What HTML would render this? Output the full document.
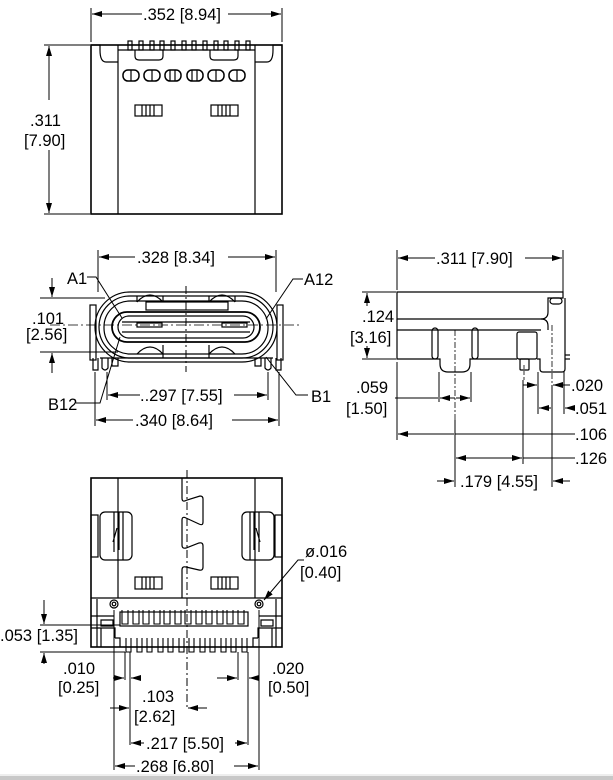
<!DOCTYPE html>
<html><head><meta charset="utf-8"><style>
html,body{margin:0;padding:0;background:#fff}
svg{display:block}
text{font-family:"Liberation Sans",sans-serif;font-size:16.5px;fill:#000}
</style></head><body>
<svg width="613" height="780" viewBox="0 0 613 780" xmlns="http://www.w3.org/2000/svg">
<defs>
<marker id="a" viewBox="0 0 10 6" refX="10" refY="3" markerWidth="10" markerHeight="6" orient="auto-start-reverse" markerUnits="userSpaceOnUse"><path d="M0,0L10,3L0,6z" fill="#000"/></marker>
</defs>
<g fill="none" stroke="#000" stroke-width="1.2">
<!-- TOP VIEW -->
<rect x="91" y="45" width="191" height="169" stroke-width="1.6"/>
<line x1="118" y1="45" x2="118" y2="214"/><line x1="255" y1="45" x2="255" y2="214"/>
<path d="M91,45 h9 v5 q0,12 6,12 h12 M282,45 h-9 v5 q0,12 -6,12 h-12"/>
<line x1="118" y1="50" x2="255" y2="50"/>
<g>
<rect x="128" y="41" width="4" height="9"/><rect x="139" y="41" width="4" height="9"/><rect x="150" y="41" width="4" height="9"/><rect x="160" y="41" width="4" height="9"/><rect x="171" y="41" width="4" height="9"/><rect x="182" y="41" width="4" height="9"/><rect x="192" y="41" width="4" height="9"/><rect x="203" y="41" width="4" height="9"/><rect x="214" y="41" width="4" height="9"/><rect x="224" y="41" width="4" height="9"/><rect x="235" y="41" width="4" height="9"/><rect x="246" y="41" width="4" height="9"/>
</g>
<path d="M135,50 v6 q0,4 4,4 h20 q4,0 4,-4 v-6 M210,50 v6 q0,4 4,4 h20 q4,0 4,-4 v-6"/>
<g stroke-width="1.5">
<rect x="123" y="70" width="16" height="11" rx="5"/><rect x="144" y="70" width="16" height="11" rx="5"/><rect x="165" y="70" width="16" height="11" rx="5"/><rect x="187" y="70" width="16" height="11" rx="5"/><rect x="208" y="70" width="16" height="11" rx="5"/><rect x="229" y="70" width="16" height="11" rx="5"/>
</g>
<path d="M131,70v11M152,70v11M170,70v11M175,70v11M192,70v11M197,70v11M216,70v11M237,70v11"/>
<rect x="135" y="105" width="27" height="11"/><path d="M142,105v11M146,105v11M150,105v11M154,105v11"/>
<rect x="211" y="105" width="27" height="11"/><path d="M218,105v11M222,105v11M226,105v11M230,105v11"/>
<line x1="91" y1="8" x2="91" y2="42" stroke-width="1"/><line x1="282" y1="8" x2="282" y2="42" stroke-width="1"/>
<line x1="92" y1="14" x2="142" y2="14" marker-start="url(#a)" stroke-width="1"/><line x1="228" y1="14" x2="281" y2="14" marker-end="url(#a)" stroke-width="1"/>
<line x1="44" y1="45" x2="90" y2="45" stroke-width="1"/><line x1="44" y1="214" x2="90" y2="214" stroke-width="1"/>
<line x1="49" y1="46" x2="49" y2="100" marker-start="url(#a)" stroke-width="1"/><line x1="49" y1="150" x2="49" y2="213" marker-end="url(#a)" stroke-width="1"/>

<!-- FRONT VIEW -->
<rect x="95" y="292" width="182" height="70" rx="35"/>
<rect x="99" y="296" width="174" height="62" rx="31"/>
<rect x="104" y="301" width="164" height="53" rx="26"/>
<rect x="112" y="312" width="148" height="30" rx="15" stroke-width="1.8"/>
<rect x="118" y="316" width="136" height="22" rx="11"/>
<line x1="122" y1="322" x2="250" y2="322"/><line x1="122" y1="332" x2="250" y2="332"/>
<rect x="137" y="323" width="25" height="4"/><rect x="222" y="323" width="25" height="4"/>
<path d="M137,302 v-6 M163,302 v-6 M137,302 q13,-14 26,0 M209,302 q13,-14 26,0 M209,302v-6 M235,302v-6"/>
<path d="M137,354 q13,-14 26,0 M209,354 q13,-14 26,0 M163,345v13M209,345v13"/>
<rect x="146" y="302" width="82" height="8"/>
<rect x="90" y="305" width="6" height="55"/><rect x="277" y="305" width="6" height="55"/>
<path d="M93,358v12h5v-12 M276,358v12h5v-12 M102,358v10q3,4 6,0v-10 M265,358v10q3,4 6,0v-10 M112,358v8h6v-8 M255,358v8h6v-8"/>
<line x1="100" y1="358" x2="273" y2="358"/>
<line x1="186" y1="286" x2="186" y2="372" stroke-dasharray="8,3,2,3" stroke-width="1"/>
<line x1="50" y1="325" x2="300" y2="325" stroke-dasharray="10,3,2,3" stroke-width="0.8"/>
<line x1="98" y1="250" x2="98" y2="292" stroke-width="1"/><line x1="276" y1="250" x2="276" y2="292" stroke-width="1"/>
<line x1="99" y1="257" x2="135" y2="257" marker-start="url(#a)" stroke-width="1"/><line x1="228" y1="257" x2="275" y2="257" marker-end="url(#a)" stroke-width="1"/>
<line x1="40" y1="298" x2="105" y2="298" stroke-width="1"/><line x1="40" y1="352" x2="118" y2="352" stroke-width="1"/>
<line x1="52" y1="278" x2="52" y2="297" marker-end="url(#a)" stroke-width="1"/><line x1="52" y1="373" x2="52" y2="353" marker-end="url(#a)" stroke-width="1"/>
<line x1="107" y1="372" x2="107" y2="400" stroke-width="1"/><line x1="268" y1="372" x2="268" y2="400" stroke-width="1"/>
<line x1="108" y1="395" x2="140" y2="395" marker-start="url(#a)" stroke-width="1"/><line x1="234" y1="395" x2="267" y2="395" marker-end="url(#a)" stroke-width="1"/>
<line x1="95" y1="372" x2="95" y2="426" stroke-width="1"/><line x1="279" y1="372" x2="279" y2="426" stroke-width="1"/>
<line x1="96" y1="420" x2="133" y2="420" marker-start="url(#a)" stroke-width="1"/><line x1="232" y1="420" x2="278" y2="420" marker-end="url(#a)" stroke-width="1"/>
<path d="M87,277h9l26,41 M303,279h-10l-27,40 M76,403h24l20,-66 M308,395h-12l-30,-38" stroke-width="1"/>

<!-- SIDE VIEW -->
<path d="M397,292 H563 V298 H548 V312 Q548,319 541,319 H397 Z"/>
<path d="M397,319 V359 H440 V364 Q440,372 448,372 H462 Q470,372 470,364 V359 H517 M537,359 H540 V369 Q540,372 543,372 H562 Q565,372 565,369 V298"/>
<line x1="397" y1="330" x2="541" y2="330"/><path d="M541,319 Q548,319 548,326 V330"/>
<line x1="565" y1="355" x2="570" y2="355"/><line x1="565" y1="359" x2="570" y2="359"/>
<rect x="432" y="328" width="6" height="31" rx="3"/><rect x="472" y="328" width="6" height="31" rx="3"/>
<rect x="517" y="332" width="20" height="27" rx="2"/><rect x="520" y="359" width="9" height="11" rx="1"/>
<rect x="550" y="298" width="12" height="6" rx="3"/>
<line x1="455" y1="330" x2="455" y2="420" stroke-dasharray="6,2,2,2" stroke-width="0.8"/>
<line x1="524" y1="365" x2="524" y2="380" stroke-dasharray="4,2" stroke-width="0.8"/>
<line x1="552" y1="325" x2="552" y2="385" stroke-dasharray="6,2,2,2" stroke-width="0.8"/>
<line x1="397" y1="250" x2="397" y2="290" stroke-width="1"/><line x1="563" y1="250" x2="563" y2="292" stroke-width="1"/>
<line x1="398" y1="258" x2="435" y2="258" marker-start="url(#a)" stroke-width="1"/><line x1="525" y1="258" x2="562" y2="258" marker-end="url(#a)" stroke-width="1"/>
<line x1="362" y1="292" x2="396" y2="292" stroke-width="1"/><line x1="362" y1="359" x2="396" y2="359" stroke-width="1"/>
<line x1="367" y1="293" x2="367" y2="306" marker-start="url(#a)" stroke-width="1"/><line x1="367" y1="346" x2="367" y2="358" marker-end="url(#a)" stroke-width="1"/>
<line x1="397" y1="362" x2="397" y2="440" stroke-width="1"/>
<line x1="439" y1="372" x2="439" y2="402" stroke-width="1"/><line x1="471" y1="372" x2="471" y2="402" stroke-width="1"/>
<line x1="395" y1="398" x2="438" y2="398" stroke-width="1"/><line x1="440" y1="398" x2="455" y2="398" marker-start="url(#a)" stroke-width="1"/><line x1="456" y1="398" x2="470" y2="398" marker-end="url(#a)" stroke-width="1"/>
<line x1="455" y1="420" x2="455" y2="487" stroke-width="1"/>
<line x1="523" y1="380" x2="523" y2="464" stroke-width="1"/>
<line x1="538" y1="372" x2="538" y2="414" stroke-width="1"/><line x1="552" y1="385" x2="552" y2="487" stroke-width="1"/>
<line x1="564" y1="372" x2="564" y2="414" stroke-width="1"/>
<line x1="523" y1="385" x2="537" y2="385" marker-end="url(#a)" stroke-width="1"/><line x1="570" y1="385" x2="553" y2="385" marker-end="url(#a)" stroke-width="1"/>
<line x1="539" y1="408" x2="551" y2="408" marker-start="url(#a)" stroke-width="1"/><line x1="575" y1="408" x2="565" y2="408" marker-end="url(#a)" stroke-width="1"/>
<line x1="398" y1="434" x2="454" y2="434" marker-start="url(#a)" stroke-width="1"/><line x1="455" y1="434" x2="575" y2="434" stroke-width="1"/>
<line x1="456" y1="458" x2="522" y2="458" marker-start="url(#a)" marker-end="url(#a)" stroke-width="1"/><line x1="523" y1="458" x2="575" y2="458" stroke-width="1"/>
<line x1="437" y1="481" x2="454" y2="481" marker-end="url(#a)" stroke-width="1"/><line x1="570" y1="481" x2="553" y2="481" marker-end="url(#a)" stroke-width="1"/>

<!-- BOTTOM VIEW -->
<rect x="91" y="478" width="191" height="169" stroke-width="1.6"/>
<line x1="118" y1="478" x2="118" y2="598"/><line x1="255" y1="478" x2="255" y2="598"/>
<line x1="91" y1="598" x2="282" y2="598"/>
<path d="M182,478 V498 Q182,503 187,500 L200,496 Q203,496 203,499 V522 Q203,526 199,524 L186,518 Q182,516 182,520 V545 Q182,549 186,548 L199,543 Q203,542 203,546 V567 Q203,571 199,570 L186,567 Q182,566 182,570 V598"/>
<line x1="187" y1="470" x2="187" y2="710" stroke-dasharray="8,3,2,3" stroke-width="1"/>
<rect x="100" y="512" width="32" height="48" rx="5"/><rect x="91" y="515" width="7" height="42"/>
<path d="M114,512 V552 M119,512 V550 M117,528 l-4,14 M123,512 V560"/>
<rect x="242" y="512" width="32" height="48" rx="5"/><rect x="275" y="515" width="7" height="42"/>
<path d="M259,512 V552 M254,512 V550 M256,528 l4,14 M250,512 V560"/>
<rect x="135" y="577" width="27" height="12"/><path d="M142,577v12M146,577v12M150,577v12M154,577v12"/>
<rect x="211" y="577" width="27" height="12"/><path d="M218,577v12M222,577v12M226,577v12M230,577v12"/>
<circle cx="114" cy="604" r="4"/><circle cx="114" cy="604" r="1.8"/>
<circle cx="259" cy="604" r="4"/><circle cx="259" cy="604" r="1.8"/>
<rect x="120" y="612" width="128" height="14"/>
<path d="M97,599V647 M276,599V647 M91,616H114 M259,616H282 M101,620H113V626H101Z M261,620H273V626H261Z M91,628H115V638 M282,628H258V638 M101,628V647 M272,628V647"/>
<path d="M115,638 H120 V647 M258,638 H253 V647"/>
<g stroke-width="1.1">
<path d="M122,610v14h6v-14 M133,610v14h6v-14 M143,610v14h6v-14 M154,610v14h6v-14 M164,610v14h6v-14 M175,610v14h6v-14 M185,610v14h6v-14 M196,610v14h6v-14 M206,610v14h6v-14 M217,610v14h6v-14 M227,610v14h6v-14 M238,610v14h6v-14"/>
<path d="M126,638v14h5v-14 M137,638v14h5v-14 M147,638v14h5v-14 M158,638v14h5v-14 M168,638v14h5v-14 M179,638v14h5v-14 M189,638v14h5v-14 M200,638v14h5v-14 M210,638v14h5v-14 M221,638v14h5v-14 M231,638v14h5v-14 M242,638v14h5v-14"/>
</g>
<line x1="40" y1="625" x2="120" y2="625" stroke-width="1"/><line x1="40" y1="652" x2="125" y2="652" stroke-width="1"/>
<line x1="44" y1="600" x2="44" y2="624" marker-end="url(#a)" stroke-width="1"/><line x1="44" y1="664" x2="44" y2="653" marker-end="url(#a)" stroke-width="1"/>
<line x1="114" y1="610" x2="114" y2="770" stroke-width="1"/><line x1="259" y1="610" x2="259" y2="770" stroke-width="1"/>
<line x1="125" y1="652" x2="125" y2="680" stroke-width="1"/><line x1="130" y1="652" x2="130" y2="745" stroke-width="1"/>
<line x1="238" y1="652" x2="238" y2="680" stroke-width="1"/><line x1="248" y1="652" x2="248" y2="745" stroke-width="1"/>
<line x1="113" y1="678" x2="124" y2="678" marker-end="url(#a)" stroke-width="1"/><line x1="141" y1="678" x2="131" y2="678" marker-end="url(#a)" stroke-width="1"/>
<line x1="217" y1="678" x2="237" y2="678" marker-end="url(#a)" stroke-width="1"/><line x1="259" y1="678" x2="249" y2="678" marker-end="url(#a)" stroke-width="1"/>
<line x1="110" y1="708" x2="129" y2="708" marker-end="url(#a)" stroke-width="1"/><line x1="207" y1="708" x2="188" y2="708" marker-end="url(#a)" stroke-width="1"/>
<line x1="131" y1="743" x2="144" y2="743" marker-start="url(#a)" stroke-width="1"/><line x1="235" y1="743" x2="247" y2="743" marker-end="url(#a)" stroke-width="1"/>
<line x1="115" y1="766" x2="135" y2="766" marker-start="url(#a)" stroke-width="1"/><line x1="234" y1="766" x2="258" y2="766" marker-end="url(#a)" stroke-width="1"/>
<path d="M304,560 h-6 l-34,40" stroke-width="1" marker-end="url(#a)"/>
</g>
<text x="143" y="20">.352 [8.94]</text>
<text x="30" y="126">.311</text><text x="24" y="146">[7.90]</text>
<text x="137" y="263">.328 [8.34]</text>
<text x="67" y="284">A1</text><text x="304" y="285">A12</text>
<text x="32" y="324">.101</text><text x="26" y="340">[2.56]</text>
<text x="48" y="410">B12</text><text x="311" y="402">B1</text>
<text x="140" y="401">..297 [7.55]</text>
<text x="135" y="426">.340 [8.64]</text>
<text x="436" y="264">.311 [7.90]</text>
<text x="362" y="322">.124</text><text x="350" y="343">[3.16]</text>
<text x="356" y="393">.059</text><text x="346" y="414">[1.50]</text>
<text x="571" y="391">.020</text><text x="575" y="414">.051</text>
<text x="575" y="440">.106</text><text x="575" y="464">.126</text>
<text x="460" y="487">.179 [4.55]</text>
<text x="305" y="557">ø.016</text><text x="300" y="578">[0.40]</text>
<text x="0" y="641">.053 [1.35]</text>
<text x="63" y="674">.010</text><text x="58" y="693">[0.25]</text>
<text x="272" y="674">.020</text><text x="268" y="693">[0.50]</text>
<text x="142" y="702">.103</text><text x="134" y="722">[2.62]</text>
<text x="146" y="749">.217 [5.50]</text>
<text x="136" y="772">.268 [6.80]</text>
<rect x="0" y="774" width="613" height="2" fill="#eeeeee"/>
<rect x="0" y="776" width="613" height="4" fill="#c8c8c8"/>
</svg>
</body></html>
